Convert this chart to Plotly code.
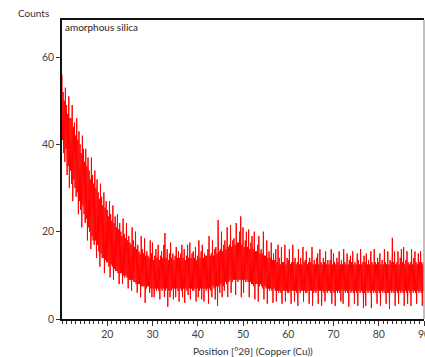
import plotly.graph_objects as go

# Sample positions (°2θ), every 0.25°
positions = [10 + 0.25 * i for i in range(321)]

# Upper excursions of the noisy pattern read at each position (counts), 4 per degree
upper_counts = [
    56, 52, 50, 53,        # 10
    49, 47, 51, 46,        # 11
    46, 49, 44, 45,        # 12
    42, 46, 41, 43,        # 13
    40, 38, 42, 39,        # 14
    36, 39, 35, 37,        # 15
    34, 32, 37, 33,        # 16
    31, 34, 30, 32,        # 17
    29, 27.5, 31, 28,      # 18
    26, 29, 25.5, 27,      # 19
    25, 23.5, 27, 24,      # 20
    22.5, 26, 22, 23.5,    # 21
    21, 24, 20.5, 22,      # 22
    20, 19, 23, 19.5,      # 23
    18.5, 22, 18, 19,      # 24
    17.5, 17, 21, 18,      # 25
    16.5, 20, 16, 17,      # 26
    15.5, 15, 19, 16,      # 27
    15, 18.5, 14.5, 15.5,  # 28
    14.5, 14, 18, 15,      # 29
    17.5, 13.5, 14.5, 16,  # 30
    14, 17, 13.5, 14.5,    # 31
    15.5, 14, 17, 19.7,    # 32
    14, 16, 13.5, 15,      # 33
    17.5, 14, 15, 13.5,    # 34
    14.5, 16.5, 14, 15.5,  # 35
    14, 15, 17, 14,        # 36
    16, 13.5, 14.5, 17,    # 37
    14, 17.5, 14, 15,      # 38
    15.5, 14, 16.5, 13.5,  # 39
    14.5, 18, 14, 15.5,    # 40
    17, 14, 15, 14.5,      # 41
    14.5, 16, 19, 14.5,    # 42
    15, 18, 14.5, 16,      # 43
    16.5, 15, 22.7, 15.5,  # 44
    16, 20, 15.5, 17,      # 45
    18, 16, 21, 16.5,      # 46
    17, 21.5, 16.5, 18,    # 47
    18.5, 17, 22, 17.5,    # 48
    17.5, 20, 23.5, 17,    # 49
    21, 16.5, 18, 20,      # 50
    16.5, 20.5, 16, 17.5,  # 51
    19, 16, 20, 15.5,      # 52
    15.5, 17, 19, 15,      # 53
    16, 15, 20, 14.5,      # 54
    14.5, 18, 14, 15.5,    # 55
    14, 17.5, 13.5, 15,    # 56
    13.5, 16, 13, 17,      # 57
    14, 12.5, 16.5, 13,    # 58
    13, 17, 12.5, 14,      # 59
    13.5, 16, 12.5, 13,    # 60
    17, 13, 14, 12.5,      # 61
    13, 16, 12.5, 14,      # 62
    12.5, 16.5, 13, 13.5,  # 63
    15.5, 12.5, 13, 14,    # 64
    13, 16.5, 12.5, 13.5,  # 65
    12.5, 14, 15, 12.5,    # 66
    16, 13, 12.5, 14,      # 67
    13, 15.5, 12.5, 13.5,  # 68
    12.5, 13.5, 16, 12.5,  # 69
    15, 13, 12.5, 14,      # 70
    13, 15.5, 12.5, 13.5,  # 71
    12.5, 16, 13, 12.5,    # 72
    15, 12.5, 13.5, 14.5,  # 73
    13, 15.5, 12.5, 13,    # 74
    12.5, 15, 13.5, 12.5,  # 75
    16, 12.5, 13, 14.5,    # 76
    13, 15, 12.5, 13.5,    # 77
    12.5, 15.5, 13, 12.5,  # 78
    16, 13, 12.5, 14,      # 79
    13, 15, 12.5, 13.5,    # 80
    12.5, 16, 13, 12.5,    # 81
    15.5, 12.5, 13.5, 13,  # 82
    18.6, 13, 15.5, 12.5,  # 83
    13, 15.5, 12.5, 14,    # 84
    16, 13, 16.5, 12.5,    # 85
    13.5, 15.5, 13, 12.5,  # 86
    13, 16, 12.5, 14,      # 87
    15.5, 13, 12.5, 15,    # 88
    13, 15.5, 13, 12.5,    # 89
    13,                    # 90
]

# Lower excursions read just after each position (counts), 4 per degree
lower_counts = [
    41, 38, 36, 39,        # 10
    33, 35, 30, 34,        # 11
    31, 27, 32, 30,        # 12
    28, 29, 24, 27,        # 13
    25, 21, 26, 24,        # 14
    22, 23, 18, 21,        # 15
    20, 16, 19, 18,        # 16
    17, 18, 14, 17,        # 17
    15.5, 12, 15, 14,      # 18
    14, 10.5, 13.5, 13,    # 19
    13, 12, 9.5, 12.5,     # 20
    12, 9, 11.5, 11,       # 21
    11, 10.5, 8, 10.5,     # 22
    10.5, 8, 10, 9.5,      # 23
    10, 9.5, 7, 9,         # 24
    9, 6.5, 9, 8.5,        # 25
    8.5, 8, 6, 8,          # 26
    8, 5, 7.5, 7.5,        # 27
    7.5, 3.7, 7, 7.5,      # 28
    7.5, 6, 7, 5,          # 29
    7, 5, 7, 6.5,          # 30
    7, 6.5, 4.5, 7,        # 31
    6.5, 7, 5, 6.5,        # 32
    7, 2.8, 6.5, 5,        # 33
    6.5, 7, 4.5, 7,        # 34
    5, 7, 6.5, 4,          # 35
    7, 6.5, 5, 7,          # 36
    3.7, 7, 6.5, 5.5,      # 37
    7, 4.5, 7, 6.5,        # 38
    6.5, 7, 4, 7,          # 39
    5, 6.5, 7, 4.5,        # 40
    7, 4, 7, 6.5,          # 41
    7, 3.5, 7, 6.5,        # 42
    5, 7.5, 7, 4.5,        # 43
    7.5, 3, 7.5, 6,        # 44
    8, 5, 7.5, 6.5,        # 45
    8.5, 8, 5, 8.5,        # 46
    9, 6, 8.5, 9,          # 47
    9, 5.5, 9, 8.5,        # 48
    9, 9, 5, 9,            # 49
    6, 9, 8.5, 9,          # 50
    8.5, 5, 8.5, 8,        # 51
    8, 7.5, 4.5, 8,        # 52
    8, 4, 7.5, 8,          # 53
    7.5, 7, 4.5, 7.5,      # 54
    7, 3.5, 7, 6.5,        # 55
    7, 6.5, 3.7, 7,        # 56
    6.5, 4, 6.5, 6,        # 57
    6.5, 6, 3.5, 6.5,      # 58
    6.5, 4, 6.5, 6,        # 59
    6, 6.5, 3.5, 6.5,      # 60
    6.5, 4, 6.5, 6,        # 61
    3, 6.5, 6, 6.5,        # 62
    6.5, 4, 6.5, 6,        # 63
    6, 6.5, 3.5, 6.5,      # 64
    6.5, 3, 6, 6.5,        # 65
    6, 6.5, 3.5, 6.5,      # 66
    6.5, 3, 6.5, 6,        # 67
    4, 6.5, 6, 6.5,        # 68
    6.5, 6, 3.5, 6.5,      # 69
    6, 3, 6.5, 6,          # 70
    6.5, 6, 4, 6.5,        # 71
    3.5, 6.5, 6, 6.5,      # 72
    6, 2.8, 6.5, 6,        # 73
    6.5, 6, 3.5, 6.5,      # 74
    6, 3, 6.5, 6,          # 75
    6.5, 6, 2.5, 6,        # 76
    3, 6.5, 6, 6.5,        # 77
    6, 2.5, 6.5, 6,        # 78
    6.5, 6, 3.5, 6.5,      # 79
    6, 3, 6.5, 6,          # 80
    6.5, 6, 3.5, 6,        # 81
    6, 2.3, 6.5, 6,        # 82
    6.5, 6, 3, 6.5,        # 83
    6, 3.5, 6.5, 6,        # 84
    6.5, 6, 3, 6.5,        # 85
    6, 3.5, 6.5, 6,        # 86
    3, 6.5, 6, 6.5,        # 87
    6, 3.5, 6.5, 6,        # 88
    6.5, 6, 3, 6.5,        # 89
    6,                     # 90
]

x_ticks = [20, 30, 40, 50, 60, 70, 80, 90]
y_ticks = [0, 20, 40, 60]

# Build the zigzag trace from the read values
xs, ys = [], []
for p, hi, lo in zip(positions, upper_counts, lower_counts):
    xs += [p, p + 0.125]
    ys += [hi, lo]

fig = go.Figure()
fig.add_trace(go.Scatter(
    x=xs, y=ys, mode="lines",
    line=dict(color="rgb(255,0,0)", width=1),
    showlegend=False, hoverinfo="skip",
))

FONT = "Lato, Open Sans, sans-serif"
tick_font = dict(family=FONT, size=10.5, color="#444444")
text_font = dict(family=FONT, size=10, color="#333333")

fig.update_layout(
    width=425, height=357,
    margin=dict(l=62, r=1, t=20, b=38),
    paper_bgcolor="white", plot_bgcolor="white",
    xaxis=dict(
        range=[10, 90], tickvals=x_ticks, ticks="outside", ticklen=5,
        tickcolor="#333333", tickwidth=1,
        minor=dict(dtick=1, tick0=10, ticks="outside", ticklen=3, tickcolor="#333333", tickwidth=1),
        showline=True, linecolor="#111111", linewidth=1.5, mirror=True,
        showgrid=False, zeroline=False, tickfont=tick_font, automargin=False,
        ticklabeloverflow="allow",
    ),
    yaxis=dict(
        range=[0, 68.5], tickvals=y_ticks, ticks="outside", ticklen=4,
        tickcolor="#333333", tickwidth=1,
        showline=True, linecolor="#111111", linewidth=1.5,
        showgrid=False, zeroline=False, tickfont=tick_font, automargin=False,
    ),
    shapes=[dict(type="line", xref="paper", yref="paper", x0=1, x1=1, y0=0, y1=1,
                 line=dict(color="#aaaaaa", width=1.5))],
    annotations=[
        dict(text="Counts", xref="paper", yref="paper", x=-0.127, y=1.023,
             xanchor="left", yanchor="middle", showarrow=False, font=text_font),
        dict(text="amorphous silica", xref="paper", yref="paper", x=0.004, y=0.977,
             xanchor="left", yanchor="middle", showarrow=False,
             font=dict(family=FONT, size=10, color="#222222")),
        dict(text="Position [°2θ] (Copper (Cu))", xref="paper", yref="paper", x=0.529, y=-0.108,
             xanchor="center", yanchor="middle", showarrow=False, font=text_font),
    ],
)

fig.write_html(
    "out.html",
    config={"displayModeBar": False},
    post_script="document.documentElement.style.overflow='hidden';"
                "document.body.style.margin='0';document.body.style.overflow='hidden';",
)
